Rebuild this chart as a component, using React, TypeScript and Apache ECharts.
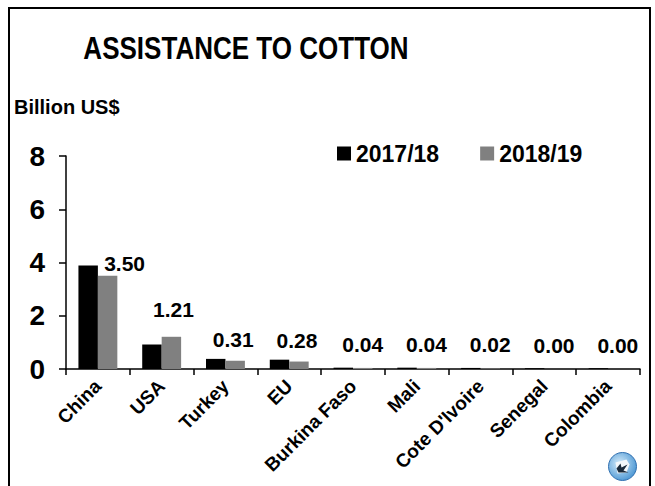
import React, { useEffect, useRef } from "react";
import * as echarts from "echarts";

const categories = ["China", "USA", "Turkey", "EU", "Burkina Faso", "Mali", "Cote D'Ivoire", "Senegal", "Colombia"];
const values1718 = [3.89, 0.92, 0.38, 0.35, 0.05, 0.05, 0.04, 0.03, 0.03];
const values1819 = [3.5, 1.21, 0.31, 0.28, 0.04, 0.04, 0.02, 0.0, 0.0];
const seriesNames = ["2017/18", "2018/19"];
const yTicks = [0, 2, 4, 6, 8];
const titleText = "ASSISTANCE TO COTTON";
const unitText = "Billion US$";

// manual label placement (as in the original slide)
const labelOffsets: [number, number][] = [
  [17, 3], [2, -12], [-2, -6], [-2, -6], [0, -8], [0, -8], [0, -8], [0, -8], [0, -8],
];

const FONT = "'Liberation Sans', Arial, sans-serif";

export default function App() {
  const ref = useRef<HTMLDivElement>(null);
  useEffect(() => {
    if (!ref.current) return;
    const chart = echarts.init(ref.current, undefined, { renderer: "svg" });
    chart.setOption({
      animation: false,
      backgroundColor: "#ffffff",
      textStyle: { fontFamily: FONT },
      legend: {
        data: seriesNames,
        left: 332,
        top: 137,
        itemWidth: 14,
        itemHeight: 14,
        itemGap: 41,
        icon: "rect",
        textStyle: { fontFamily: FONT, fontWeight: "bold", fontSize: 23, color: "#000", padding: [0, 0, 0, 0] },
      },
      grid: { left: 66, right: 15, top: 156, bottom: 117, containLabel: false },
      xAxis: {
        type: "category",
        data: categories,
        axisLine: { show: true, lineStyle: { color: "#000", width: 1.5 } },
        axisTick: { show: true, length: 6, alignWithLabel: false, lineStyle: { color: "#000", width: 1.5 } },
        axisLabel: {
          rotate: 45,
          interval: 0,
          margin: 14,
          fontFamily: FONT,
          fontWeight: "bold",
          fontSize: 19,
          color: "#000",
        },
      },
      yAxis: {
        type: "value",
        min: 0,
        max: 8,
        interval: 2,
        axisLine: { show: true, lineStyle: { color: "#000", width: 1.5 } },
        axisTick: { show: true, length: 7, inside: false, lineStyle: { color: "#000", width: 1.5 } },
        splitLine: { show: false },
        axisLabel: {
          margin: 21,
          fontFamily: FONT,
          fontWeight: "bold",
          fontSize: 28,
          color: "#000",
          formatter: (v: number) => (yTicks.includes(v) ? String(v) : ""),
        },
      },
      series: [
        {
          name: seriesNames[0],
          type: "bar",
          data: values1718,
          barGap: "0%",
          barCategoryGap: "39%",
          itemStyle: { color: "#000000" },
        },
        {
          name: seriesNames[1],
          type: "bar",
          data: values1819.map((v, i) => ({
            value: v,
            label: { offset: labelOffsets[i] },
          })),
          itemStyle: { color: "#808080" },
          label: {
            show: true,
            position: "top",
            distance: 5,
            fontFamily: FONT,
            fontWeight: "bold",
            fontSize: 21,
            color: "#000",
            formatter: (p: any) => Number(p.value).toFixed(2),
          },
        },
      ],
      graphic: [
        {
          type: "rect",
          shape: { x: 9, y: 8, width: 641, height: 500 },
          style: { fill: "none", stroke: "#000", lineWidth: 2 },
          silent: true,
        },
        {
          type: "text",
          x: 246,
          y: 33,
          scaleX: 0.84,
          style: {
            text: titleText,
            fontFamily: FONT,
            fontWeight: "bold",
            fontSize: 31,
            fill: "#000",
            textAlign: "center",
            textVerticalAlign: "top",
          },
        },
        {
          type: "text",
          left: 14,
          top: 97,
          style: {
            text: unitText,
            fontFamily: FONT,
            fontWeight: "bold",
            fontSize: 20,
            fill: "#000",
          },
        },
        {
          type: "group",
          left: 608,
          top: 452,
          children: [
            {
              type: "circle",
              shape: { cx: 14, cy: 14, r: 14 },
              style: {
                fill: new echarts.graphic.RadialGradient(0.4, 0.4, 0.7, [
                  { offset: 0, color: "#d6ecfa" },
                  { offset: 1, color: "#3f8fd0" },
                ]),
                stroke: "#2f6fb0",
                lineWidth: 1,
              },
            },
            {
              type: "polygon",
              shape: { points: [[7, 10], [18, 7], [21, 12], [18, 20], [9, 21]] },
              style: { fill: "#f4f8fb" },
            },
            {
              type: "polygon",
              shape: { points: [[8, 16], [12, 11], [13, 15], [19, 12], [15, 18], [20, 20], [10, 20]] },
              style: { fill: "#1b2a3a" },
            },
          ],
        },
      ],
    });
    return () => chart.dispose();
  }, []);
  return (
    <div
      ref={ref}
      style={{ position: "absolute", left: 0, top: 0, width: 655, height: 486 }}
    />
  );
}
